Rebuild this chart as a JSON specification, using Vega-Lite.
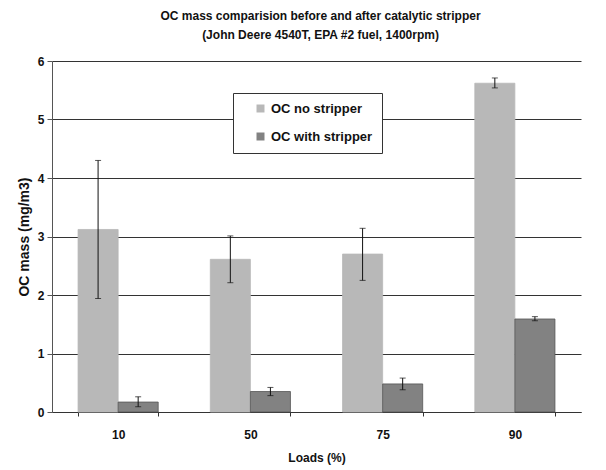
{
  "$schema": "https://vega.github.io/schema/vega-lite/v6.json",
  "width": 529,
  "height": 351,
  "autosize": {"type": "none"},
  "padding": {"left": 52, "top": 61, "right": 25, "bottom": 58},
  "background": "white",
  "title": {
    "text": ["OC mass comparision before and after catalytic stripper", "(John Deere 4540T, EPA #2 fuel, 1400rpm)"],
    "font": "Liberation Sans",
    "fontSize": 12,
    "fontWeight": "bold",
    "color": "#111",
    "lineHeight": 19,
    "offset": 13,
    "dx": 4,
    "anchor": "middle"
  },
  "config": {
    "view": {"stroke": null},
    "font": "Liberation Sans",
    "axis": {
      "labelFont": "Liberation Sans",
      "titleFont": "Liberation Sans",
      "labelFontWeight": "bold",
      "titleFontWeight": "bold",
      "labelColor": "#111",
      "titleColor": "#111",
      "labelFontSize": 12,
      "titleFontSize": 12
    }
  },
  "data": {
    "values": [
      {"load": "10", "series": "OC no stripper", "value": 3.12, "lo": 1.94, "hi": 4.30},
      {"load": "10", "series": "OC with stripper", "value": 0.17, "lo": 0.09, "hi": 0.26},
      {"load": "50", "series": "OC no stripper", "value": 2.61, "lo": 2.21, "hi": 3.01},
      {"load": "50", "series": "OC with stripper", "value": 0.35, "lo": 0.28, "hi": 0.42},
      {"load": "75", "series": "OC no stripper", "value": 2.70, "lo": 2.25, "hi": 3.14},
      {"load": "75", "series": "OC with stripper", "value": 0.48, "lo": 0.38, "hi": 0.58},
      {"load": "90", "series": "OC no stripper", "value": 5.62, "lo": 5.54, "hi": 5.71},
      {"load": "90", "series": "OC with stripper", "value": 1.59, "lo": 1.56, "hi": 1.63}
    ]
  },
  "encoding": {
    "x": {
      "field": "load",
      "type": "nominal",
      "sort": ["10", "50", "75", "90"],
      "scale": {"paddingInner": 0.394, "paddingOuter": 0.197},
      "axis": {
        "title": "Loads (%)",
        "labelAngle": 0,
        "domainColor": "#333",
        "domainWidth": 1,
        "tickColor": "#333",
        "tickBand": "extent",
        "tickSize": 4,
        "labelPadding": 13,
        "titlePadding": 12,
        "grid": false
      }
    },
    "xOffset": {
      "field": "series",
      "type": "nominal",
      "sort": ["OC no stripper", "OC with stripper"],
      "scale": {"paddingInner": 0, "paddingOuter": 0}
    }
  },
  "layer": [
    {
      "mark": {"type": "bar", "strokeWidth": 0.8},
      "encoding": {
        "y": {
          "field": "value",
          "type": "quantitative",
          "scale": {"domain": [0, 6]},
          "axis": {
            "title": "OC mass (mg/m3)",
            "titleFontSize": 14,
            "values": [0, 1, 2, 3, 4, 5, 6],
            "format": "d",
            "grid": true,
            "gridColor": "#333",
            "gridWidth": 1,
            "domainColor": "#555",
            "tickColor": "#555",
            "tickSize": 5,
            "labelPadding": 3,
            "titlePadding": 6
          }
        },
        "fill": {
          "field": "series",
          "type": "nominal",
          "sort": ["OC no stripper", "OC with stripper"],
          "scale": {"range": ["#b8b8b8", "#828282"]},
          "legend": {
            "title": null,
            "orient": "none",
            "legendX": 181,
            "legendY": 32,
            "direction": "vertical",
            "symbolType": "square",
            "symbolSize": 64,
            "symbolStrokeWidth": 0.8,
            "symbolOffset": 12,
            "labelOffset": 4,
            "labelFont": "Liberation Sans",
            "labelFontWeight": "bold",
            "labelFontSize": 13,
            "labelColor": "#111",
            "labelExpr": "datum.label + '\u00a0\u00a0\u00a0\u00a0'",
            "rowPadding": 14,
            "padding": 9,
            "strokeColor": "#333",
            "fillColor": "white",
            "labelLimit": 250,
            "offset": 0
          }
        },
        "stroke": {
          "field": "series",
          "type": "nominal",
          "sort": ["OC no stripper", "OC with stripper"],
          "scale": {"range": ["#b8b8b8", "#555555"]},
          "legend": null
        }
      }
    },
    {
      "mark": {"type": "rule", "color": "#111", "strokeWidth": 1},
      "encoding": {
        "y": {"field": "lo", "type": "quantitative"},
        "y2": {"field": "hi"}
      }
    },
    {
      "mark": {"type": "tick", "color": "#111", "thickness": 1, "size": 6},
      "encoding": {
        "y": {"field": "hi", "type": "quantitative"}
      }
    },
    {
      "mark": {"type": "tick", "color": "#111", "thickness": 1, "size": 6},
      "encoding": {
        "y": {"field": "lo", "type": "quantitative"}
      }
    }
  ]
}
